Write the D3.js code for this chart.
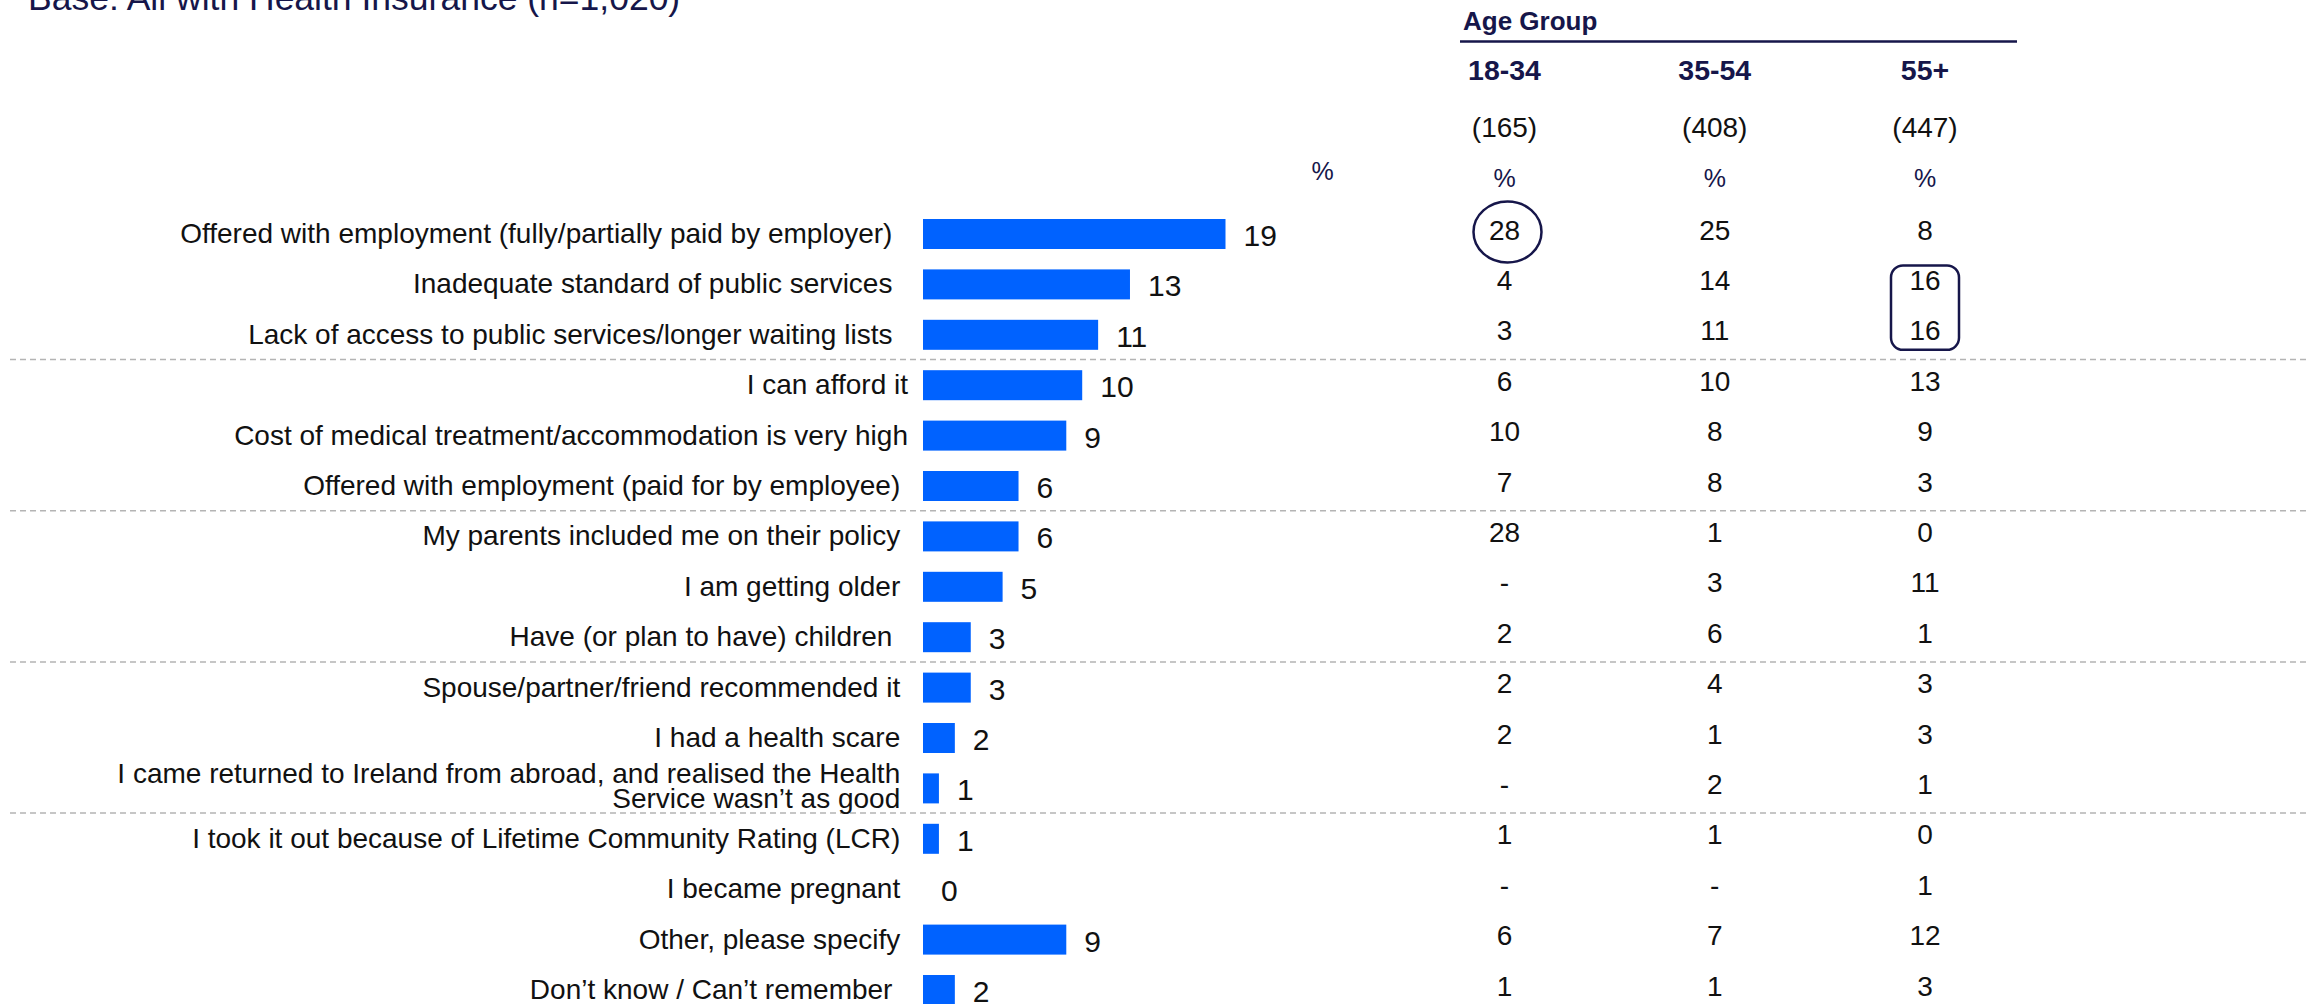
<!DOCTYPE html>
<html>
<head>
<meta charset="utf-8">
<script src="https://cdn.jsdelivr.net/npm/d3@7"></script>
<style>
  html, body { margin: 0; padding: 0; background: #ffffff; overflow: hidden; }
  svg { display: block; font-family: "Liberation Sans", Arial, sans-serif; }
  text { white-space: pre; }
</style>
</head>
<body>
<svg id="chart" width="2306" height="1004"></svg>
<script>
// Reasons for taking out health insurance (trailing spaces kept as in the source labels)
const categories = [
  "Offered with employment (fully/partially paid by employer)  ",
  "Inadequate standard of public services  ",
  "Lack of access to public services/longer waiting lists  ",
  "I can afford it",
  "Cost of medical treatment/accommodation is very high",
  "Offered with employment (paid for by employee) ",
  "My parents included me on their policy ",
  "I am getting older ",
  "Have (or plan to have) children  ",
  "Spouse/partner/friend recommended it ",
  "I had a health scare ",
  "I came returned to Ireland from abroad, and realised the Health \nService wasn\u2019t as good ",
  "I took it out because of Lifetime Community Rating (LCR) ",
  "I became pregnant ",
  "Other, please specify ",
  "Don\u2019t know / Can\u2019t remember  "
];

// Total (%)
const totals = [19, 13, 11, 10, 9, 6, 6, 5, 3, 3, 2, 1, 1, 0, 9, 2];

// Breakdown by age group (%), "-" = no responses
const ageGroups = ["18-34", "35-54", "55+"];
const ageBases = ["(165)", "(408)", "(447)"];
const age18to34 = [28, 4, 3, 6, 10, 7, 28, "-", 2, 2, 2, "-", 1, "-", 6, 1];
const age35to54 = [25, 14, 11, 10, 8, 8, 1, 3, 6, 4, 1, 2, 1, "-", 7, 1];
const age55plus = [8, 16, 16, 13, 9, 3, 0, 11, 1, 3, 3, 1, 0, 1, 12, 3];

// Rows that start a new block (dashed rule drawn above them)
const groupBreaks = [3, 6, 9, 12];

// Highlighted cells
const circledCells = [{ row: 0, col: "18-34" }];
const boxedCells = [{ rows: [1, 2], col: "55+" }];

const titleText = "Base: All with Health Insurance (n=1,020)";

const navy = "#16164a";
const ink = "#111111";
const barBlue = "#0062ff";

const svg = d3.select("#chart");
const rows = d3.range(categories.length);

// Scales
const y = d3.scalePoint().domain(rows).range([234, 990]);
const step = y.step();
const x = d3.scaleLinear().domain([0, 19]).range([923, 1225.5]);
const col = d3.scalePoint().domain(ageGroups).range([1504.5, 1925]);
const barH = 30;

// Title (runs off the top edge)
svg.append("text")
  .attr("x", 28).attr("y", 10)
  .attr("font-size", 35.5)
  .attr("fill", navy)
  .text(titleText);

// Dashed block separators
svg.append("g").selectAll("line")
  .data(groupBreaks)
  .join("line")
  .attr("x1", 10).attr("x2", 2306)
  .attr("y1", d => y(d) - step / 2 - 0.5)
  .attr("y2", d => y(d) - step / 2 - 0.5)
  .attr("stroke", "#b4b4b4")
  .attr("stroke-width", 1.5)
  .attr("stroke-dasharray", "6,4");

// Category labels
const labelG = svg.append("g")
  .attr("font-size", 28)
  .attr("fill", ink)
  .attr("text-anchor", "end");

labelG.selectAll("text")
  .data(rows)
  .join("text")
  .attr("xml:space", "preserve")
  .each(function (i) {
    const lines = categories[i].split("\n");
    const t = d3.select(this);
    lines.forEach((ln, k) => {
      t.append("tspan")
        .attr("x", 908)
        .attr("y", y(i) + 9 + (k - (lines.length - 1) / 2) * 25.5 - (lines.length > 1 ? 2 : 0))
        .text(ln);
    });
  });

// Bars
svg.append("g").selectAll("rect")
  .data(rows)
  .join("rect")
  .attr("x", x(0))
  .attr("y", i => y(i) - barH / 2)
  .attr("width", i => x(totals[i]) - x(0))
  .attr("height", barH)
  .attr("fill", barBlue);

// Bar values
svg.append("g")
  .attr("font-size", 30)
  .attr("fill", ink)
  .selectAll("text")
  .data(rows)
  .join("text")
  .attr("x", i => x(totals[i]) + 18)
  .attr("y", i => y(i) + 12)
  .text(i => totals[i]);

// "%" over the total column
svg.append("text")
  .attr("x", 1322.5).attr("y", 180)
  .attr("text-anchor", "middle")
  .attr("font-size", 25)
  .attr("fill", navy)
  .text("%");

// Age group table header
svg.append("text")
  .attr("x", 1463).attr("y", 30)
  .attr("font-size", 26)
  .attr("font-weight", "bold")
  .attr("fill", navy)
  .text("Age Group");

svg.append("line")
  .attr("x1", 1460).attr("x2", 2017)
  .attr("y1", 41.5).attr("y2", 41.5)
  .attr("stroke", navy)
  .attr("stroke-width", 2.5);

const head = svg.append("g").attr("text-anchor", "middle");
head.selectAll("text.grp")
  .data(ageGroups)
  .join("text")
  .attr("class", "grp")
  .attr("x", d => col(d))
  .attr("y", 80)
  .attr("font-size", 28.5)
  .attr("font-weight", "bold")
  .attr("fill", navy)
  .text(d => d);

head.selectAll("text.base")
  .data(ageGroups)
  .join("text")
  .attr("class", "base")
  .attr("x", d => col(d))
  .attr("y", 137)
  .attr("font-size", 28)
  .attr("fill", ink)
  .text((d, k) => ageBases[k]);

head.selectAll("text.pct")
  .data(ageGroups)
  .join("text")
  .attr("class", "pct")
  .attr("x", d => col(d))
  .attr("y", 187)
  .attr("font-size", 25)
  .attr("fill", navy)
  .text("%");

// Age group values
const ageSeries = [age18to34, age35to54, age55plus];
const cells = [];
ageSeries.forEach((vals, k) => vals.forEach((v, i) => cells.push({ g: ageGroups[k], row: i, v })));

svg.append("g")
  .attr("font-size", 28)
  .attr("fill", ink)
  .attr("text-anchor", "middle")
  .selectAll("text")
  .data(cells)
  .join("text")
  .attr("x", d => col(d.g))
  .attr("y", d => y(d.row) + 5.5)
  .text(d => d.v);

// Highlights
svg.append("g").selectAll("ellipse")
  .data(circledCells)
  .join("ellipse")
  .attr("cx", d => col(d.col) + 3)
  .attr("cy", d => y(d.row) - 2)
  .attr("rx", 34).attr("ry", 30.5)
  .attr("fill", "none")
  .attr("stroke", navy)
  .attr("stroke-width", 2.5);

svg.append("g").selectAll("rect")
  .data(boxedCells)
  .join("rect")
  .attr("x", d => col(d.col) - 34)
  .attr("y", d => y(d.rows[0]) - 19)
  .attr("width", 68)
  .attr("height", d => y(d.rows[1]) - y(d.rows[0]) + 34)
  .attr("rx", 12).attr("ry", 12)
  .attr("fill", "none")
  .attr("stroke", navy)
  .attr("stroke-width", 2.5);
</script>
</body>
</html>
